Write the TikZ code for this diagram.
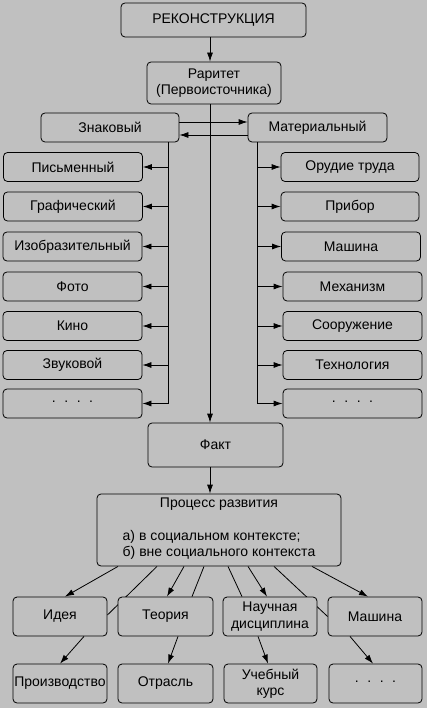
\documentclass[tikz,border=0pt]{standalone}
\usepackage{fontspec}
\setmainfont{Liberation Sans}
\usetikzlibrary{arrows.meta,backgrounds}
\definecolor{panel}{HTML}{C0C0C0}
\newcommand{\fourdots}{\raisebox{3pt}{.\hspace{8.5pt}.\hspace{8.5pt}.\hspace{8.5pt}.}}
\tikzset{
  box/.style={draw, line width=0.8pt, rounded corners=4pt, fill=panel, inner sep=1pt,
    align=center, font=\fontsize{14}{16.5}\selectfont},
  arr/.style={-{Latex[length=9pt,width=6pt]}, line width=0.8pt},
  ln/.style={line width=0.8pt}
}
\begin{document}
\begin{tikzpicture}[x=1pt,y=-1pt]
\useasboundingbox (0,0) rectangle (427,708);

\node[box, minimum width=185pt, minimum height=34pt] (rec) at (213.5,20) {РЕКОНСТРУКЦИЯ};
\node[box, minimum width=134pt, minimum height=42pt] (rar) at (214,83) {Раритет\\(Первоисточника)};
\node[box, minimum width=138pt, minimum height=29pt] (zn) at (110,127.5) {Знаковый};
\node[box, minimum width=139pt, minimum height=29pt] (mat) at (317.5,127.5) {Материальный};

\node[box, minimum width=139pt, minimum height=29pt] (l1) at (73,167) {Письменный};
\node[box, minimum width=139pt, minimum height=29pt] (l2) at (73,206.5) {Графический};
\node[box, minimum width=139pt, minimum height=29pt] (l3) at (72.5,246.5) {Изобразительный};
\node[box, minimum width=139pt, minimum height=29pt] (l4) at (72.5,286.5) {Фото};
\node[box, minimum width=139pt, minimum height=29pt] (l5) at (72.5,326) {Кино};
\node[box, minimum width=139pt, minimum height=29pt] (l6) at (72.5,365) {Звуковой};
\node[box, minimum width=139pt, minimum height=29pt] (l7) at (72.5,403.5) {\fourdots};

\node[box, minimum width=138pt, minimum height=29pt] (r1) at (350,167) {Орудие труда};
\node[box, minimum width=138pt, minimum height=29pt] (r2) at (350,206.5) {Прибор};
\node[box, minimum width=139pt, minimum height=29pt] (r3) at (351,246.5) {Машина};
\node[box, minimum width=139pt, minimum height=29pt] (r4) at (352.5,286.5) {Механизм};
\node[box, minimum width=139pt, minimum height=29pt] (r5) at (352.5,326) {Сооружение};
\node[box, minimum width=139pt, minimum height=29pt] (r6) at (352.5,365) {Технология};
\node[box, minimum width=139pt, minimum height=29pt] (r7) at (352.5,403.5) {\fourdots};

\node[box, minimum width=135pt, minimum height=44pt] (fact) at (215.5,445) {Факт};
\node[box, minimum width=244pt, minimum height=72pt] (proc) at (219,530)
  {Процесс развития\\[16pt]\begin{tabular}[t]{@{}l@{}}а) в социальном контексте;\\б) вне социального контекста\end{tabular}};

\node[box, minimum width=94pt, minimum height=39pt] (idea) at (60,616.5) {Идея};
\node[box, minimum width=95pt, minimum height=39pt] (teor) at (165.5,616.5) {Теория};
\node[box, minimum width=94pt, minimum height=39pt] (nauch) at (270,616.5) {Научная\\дисциплина};
\node[box, minimum width=94pt, minimum height=39pt] (mash) at (375,616.5) {Машина};

\node[box, minimum width=94pt, minimum height=39pt, inner sep=0pt] (prod) at (60,683.5) {Производство};
\node[box, minimum width=95pt, minimum height=39pt] (otr) at (165.5,683.5) {Отрасль};
\node[box, minimum width=93pt, minimum height=39pt] (kurs) at (270.5,683.5) {Учебный\\курс};
\node[box, minimum width=93pt, minimum height=39pt] (more) at (375.5,683.5) {\fourdots};

\coordinate (axis) at (210,0);
\coordinate (zt) at (168,0);
\coordinate (mt) at (257,0);

\draw[arr] (rec.south -| axis) -- (rar.north -| axis);
\draw[arr] (rar.south -| axis) -- (fact.north -| axis);
\draw[arr] (fact.south -| axis) -- (proc.north -| axis);

\draw[arr] ([yshift=5.5pt]zn.east) -- ([yshift=5.5pt]mat.west);
\draw[arr] ([yshift=-7.5pt]mat.west) -- ([yshift=-7.5pt]zn.east);

\draw[arr] (zn.south -| zt) |- (l1.east);
\draw[arr] (zn.south -| zt) |- (l2.east);
\draw[arr] (zn.south -| zt) |- (l3.east);
\draw[arr] (zn.south -| zt) |- (l4.east);
\draw[arr] (zn.south -| zt) |- (l5.east);
\draw[arr] (zn.south -| zt) |- (l6.east);
\draw[arr] (zn.south -| zt) |- (l7.east);

\draw[arr] (mat.south -| mt) |- (r1.west);
\draw[arr] (mat.south -| mt) |- (r2.west);
\draw[arr] (mat.south -| mt) |- (r3.west);
\draw[arr] (mat.south -| mt) |- (r4.west);
\draw[arr] (mat.south -| mt) |- (r5.west);
\draw[arr] (mat.south -| mt) |- (r6.west);
\draw[arr] (mat.south -| mt) |- (r7.west);

\begin{pgfonlayer}{background}
  \fill[panel] (0,0) rectangle (427,708);
  \draw[arr] ([xshift=-101pt]proc.south) -- ([xshift=5pt]idea.north);
  \draw[ln] ([xshift=-62pt]proc.south) -- ([yshift=1.5pt]idea.east);
  \draw[arr] ([xshift=-35pt]proc.south) -- ([xshift=1.5pt]teor.north);
  \draw[ln] ([xshift=-15pt]proc.south) -- ([xshift=26.5pt]teor.north);
  \draw[ln] ([xshift=9pt]proc.south) -- ([xshift=-28pt]nauch.north);
  \draw[arr] ([xshift=29pt]proc.south) -- ([xshift=-3pt]nauch.north);
  \draw[ln] ([xshift=55pt]proc.south) -- (mash.west);
  \draw[arr] ([xshift=93pt]proc.south) -- ([xshift=-7pt]mash.north);
\end{pgfonlayer}

\draw[arr] ([xshift=24pt]idea.south) -- (prod.north);
\draw[arr] ([xshift=12.5pt]teor.south) -- ([xshift=2.5pt]otr.north);
\draw[arr] ([xshift=-12pt]nauch.south) -- ([xshift=-2.5pt]kurs.north);
\draw[arr] ([xshift=-25pt]mash.south) -- ([xshift=-2.5pt]more.north);
\end{tikzpicture}
\end{document}
